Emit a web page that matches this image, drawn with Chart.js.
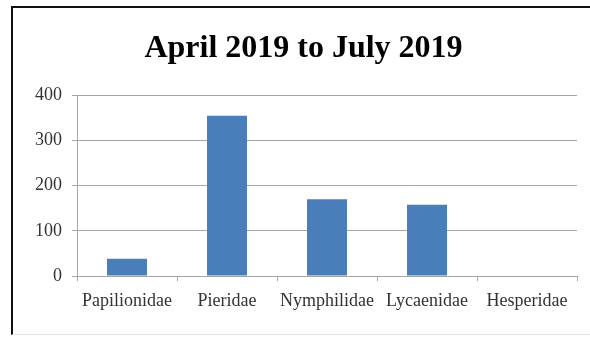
<!DOCTYPE html>
<html>
<head>
<meta charset="utf-8">
<script src="https://cdn.jsdelivr.net/npm/chart.js@4"></script>
<style>
  html, body { margin: 0; padding: 0; background: #fff; }
  #wrap { position: relative; width: 590px; height: 341px; overflow: hidden; }
  #frame {
    position: absolute; left: 11px; top: 6px; width: 620px; height: 326px;
    border-left: 2px solid #111; border-top: 2px solid #111; border-bottom: 1px solid #e4e4e4;
  }
  #chart { position: absolute; left: 0; top: 0; }
</style>
</head>
<body>
<div id="wrap">
  <div id="frame"></div>
  <canvas id="chart" width="590" height="341"></canvas>
</div>
<script>
// data
const families = ["Papilionidae", "Pieridae", "Nymphilidae", "Lycaenidae", "Hesperidae"];
const counts = [38, 355, 170, 158, 0];
const yTicks = [0, 100, 200, 300, 400];
const chartTitle = "April 2019 to July 2019";

const gridColor = "#a6a6a6";
const serif = "'Liberation Serif', 'DejaVu Serif', serif";

const ctx = document.getElementById("chart").getContext("2d");
const chart = new Chart(ctx, {
  type: "bar",
  data: {
    labels: families,
    datasets: [{
      data: counts,
      backgroundColor: "#4a7ebb",
      borderWidth: 0,
      barPercentage: 0.4,
      categoryPercentage: 1.0,
    }]
  },
  options: {
    responsive: false,
    animation: false,
    // left padding shifts the title centre to the right, like the picture
    layout: { padding: { left: 30, right: 13, top: 0, bottom: 0 } },
    plugins: {
      legend: { display: false },
      tooltip: { enabled: false },
      title: {
        display: true,
        text: chartTitle,
        color: "#000",
        font: { family: serif, size: 32, weight: "bold", lineHeight: 1.2 },
        padding: { top: 30, bottom: 27 },
      },
    },
    scales: {
      x: {
        grid: {
          display: true,
          drawOnChartArea: false,
          drawTicks: true,
          tickLength: 5,
          color: gridColor,
          offset: true,
        },
        border: { display: true, color: gridColor, width: 1 },
        ticks: {
          color: "#333",
          padding: 9,
          font: { family: serif, size: 18 },
          maxRotation: 0,
          autoSkip: false,
        },
        afterFit: (scale) => { scale.height = 65; },
      },
      y: {
        min: 0,
        max: 400,
        afterBuildTicks: (scale) => { scale.ticks = yTicks.map((v) => ({ value: v })); },
        grid: {
          color: gridColor,
          tickLength: 5,
          drawTicks: true,
        },
        border: { display: true, color: gridColor, width: 1 },
        ticks: {
          color: "#333",
          padding: 10,
          font: { family: serif, size: 18 },
        },
        afterFit: (scale) => { scale.width = 47; },
      },
    },
  },
});
</script>
</body>
</html>
